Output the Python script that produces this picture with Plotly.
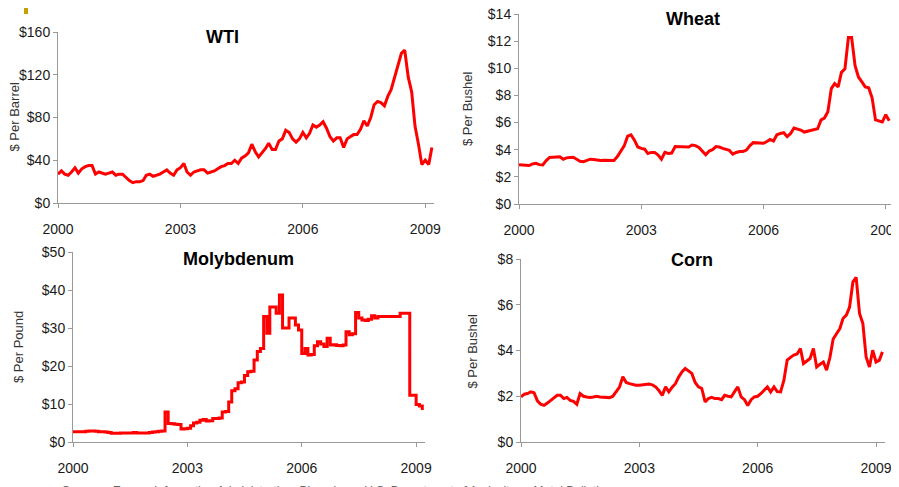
import pandas as pd
import plotly.graph_objects as go

# === Datos (valores mensuales) ===
months = pd.date_range("2000-01-01", "2009-03-01", freq="MS")

wti = [27, 30, 27, 26, 29, 33, 28, 32, 34, 35, 35, 27,
       29, 28, 27, 28, 29, 26, 27, 27, 24, 21, 19, 20,
       20, 21, 26, 27, 25, 26, 27, 29, 31, 28, 26, 31,
       33, 37, 29, 26, 29, 30, 31, 31, 28, 29, 30, 32,
       34, 35, 37, 37, 40, 37, 42, 44, 47, 55, 48, 43,
       47, 51, 56, 50, 50, 58, 60, 68, 66, 60, 57, 60,
       66, 61, 65, 73, 71, 73, 76, 70, 62, 58, 61, 61,
       52, 60, 62, 64, 64, 69, 77, 72, 80, 92, 95, 94,
       91, 100, 106, 118, 128, 140, 143, 118, 104, 72, 55, 36,
       40, 36, 52]

wheat = [2.90, 2.88, 2.85, 2.83, 2.95, 3.00, 2.90, 2.88, 3.20, 3.43, 3.45, 3.48,
         3.48, 3.30, 3.40, 3.43, 3.45, 3.30, 3.15, 3.12, 3.20, 3.30, 3.28, 3.22,
         3.20, 3.22, 3.20, 3.20, 3.20, 3.50, 3.90, 4.28, 5.00, 5.10, 4.70, 4.20,
         4.10, 4.04, 3.72, 3.80, 3.80, 3.60, 3.30, 3.80, 3.72, 3.75, 4.23, 4.23,
         4.23, 4.23, 4.20, 4.35, 4.30, 4.16, 3.90, 3.63, 3.90, 4.00, 4.23, 4.20,
         4.10, 4.04, 3.95, 3.67, 3.80, 3.87, 3.87, 3.97, 4.30, 4.52, 4.50, 4.47,
         4.47, 4.60, 4.76, 4.64, 5.10, 5.20, 5.25, 4.96, 5.20, 5.60, 5.54, 5.45,
         5.30, 5.37, 5.40, 5.49, 5.55, 6.20, 6.33, 6.80, 8.50, 8.87, 8.63, 9.70,
         9.96, 12.26, 12.26, 10.20, 9.36, 9.00, 8.63, 8.56, 7.80, 6.20, 6.14, 6.04,
         6.58, 6.14]

molybdenum = [2.7, 2.7, 2.7, 2.7, 2.8, 2.9, 2.9, 2.8, 2.7, 2.7, 2.6, 2.5,
              2.3, 2.3, 2.3, 2.4, 2.4, 2.4, 2.4, 2.5, 2.4, 2.4, 2.4, 2.4,
              2.5, 2.6, 2.7, 2.8, 2.9, 7.9, 4.9, 4.8, 4.7, 4.6, 3.4, 3.5,
              3.6, 4.3, 5.0, 5.2, 5.7, 5.9, 5.5, 5.6, 6.2, 6.2, 6.3, 7.9,
              8.0, 10.5, 13.5, 14.0, 15.6, 15.8, 17.5, 18.5, 18.6, 21.6, 23.8, 24.6,
              33.0, 28.6, 35.5, 35.5, 33.9, 38.7, 30.0, 30.0, 32.6, 32.6, 30.8, 29.5,
              23.3, 24.6, 22.9, 23.0, 25.3, 26.4, 25.8, 25.1, 27.3, 25.5, 25.6, 25.4,
              25.3, 25.5, 29.0, 28.2, 28.5, 34.1, 32.6, 32.1, 32.0, 32.3, 33.2, 32.6,
              33.0, 33.0, 33.0, 33.0, 33.0, 33.0, 33.0, 33.9, 33.9, 33.9, 12.3, 12.3,
              9.9, 9.5, 8.4]

corn = [1.97, 2.09, 2.12, 2.19, 2.15, 1.80, 1.65, 1.60, 1.70, 1.82, 1.95, 2.04,
        2.04, 1.90, 1.95, 1.82, 1.78, 1.65, 2.12, 2.00, 1.97, 1.95, 1.97, 2.00,
        1.97, 1.96, 1.97, 1.94, 2.00, 2.20, 2.40, 2.85, 2.60, 2.55, 2.50, 2.48,
        2.48, 2.50, 2.52, 2.53, 2.50, 2.41, 2.25, 2.04, 2.41, 2.19, 2.40, 2.55,
        2.85, 3.07, 3.21, 3.10, 3.00, 2.60, 2.41, 2.34, 1.75, 1.90, 1.95, 1.90,
        1.90, 1.85, 2.04, 2.00, 1.97, 2.20, 2.41, 1.97, 1.85, 1.60, 1.85, 1.97,
        2.00, 2.12, 2.25, 2.41, 2.19, 2.41, 2.20, 2.19, 2.70, 3.58, 3.70, 3.80,
        3.85, 4.09, 3.43, 3.55, 3.65, 4.09, 3.28, 3.40, 3.50, 3.14, 3.70, 4.50,
        4.74, 4.96, 5.40, 5.55, 5.90, 7.00, 7.20, 5.62, 5.18, 3.72, 3.28, 4.01,
        3.50, 3.58, 3.94]

year_ticks = ["2000-01-01", "2003-01-01", "2006-01-01", "2009-01-01"]
year_labels = ["2000", "2003", "2006", "2009"]

# la página tiene un margen de 8px en el body: la figura empieza en (8, 8)
OFF = 8
W, H = 899 - OFF, 487 - OFF


def px(x):
    return (x - OFF) / W


def py(y):
    return 1 - (y - OFF) / H


RED = "#FF0000"
AXIS = "#999999"
SANS = "Liberation Sans, Arial, sans-serif"
XFONT = dict(family=SANS, size=14, color="#1a1a1a")
YFONT = dict(family=SANS, size=14, color="#1a1a1a")

# (nombre, datos, forma, eje, x0, x1, y_arriba, y_abajo, x_fin, ymax, dtick, título_y, x_título_y, x_título, y_título)
panels = [
    ("WTI", wti, "linear", 1, 58, 434, 32, 203, "2009-03-20", 160, 40, "$ Per Barrel", 14, 222, 37),
    ("Wheat", wheat, "linear", 2, 519, 891, 14, 204, "2009-02-17", 14, 2, "$ Per Bushel", 468, 693, 19),
    ("Molybdenum", molybdenum, "hv", 3, 73, 425, 252, 442, "2009-03-27", 50, 10, "$ Per Pound", 18, 238, 259),
    ("Corn", corn, "linear", 4, 521, 885, 259, 442, "2009-03-25", 8, 2, "$ Per Bushel", 472, 692, 260),
]

fig = go.Figure()
annotations = []

for name, vals, shape, n, x0, x1, yt, yb, xend, ymax, dtick, ytitle, ytx, tx, ty in panels:
    sfx = "" if n == 1 else str(n)
    fig.add_trace(go.Scatter(
        x=months, y=vals, mode="lines", line=dict(color=RED, width=3, shape=shape),
        xaxis="x" + sfx, yaxis="y" + sfx, showlegend=False, hoverinfo="skip"
    ))
    fig.layout["xaxis" + sfx] = dict(
        domain=[px(x0), px(x1)], anchor="y" + sfx, type="date", automargin=False,
        range=["2000-01-01", xend], tickvals=year_ticks, ticktext=year_labels,
        showgrid=False, zeroline=False, showline=True, linecolor=AXIS, linewidth=1,
        ticks="outside", ticklen=4, tickcolor=AXIS, tickfont=XFONT, ticklabelstandoff=9,
        ticklabeloverflow="allow"
    )
    fig.layout["yaxis" + sfx] = dict(
        domain=[py(yb), py(yt)], anchor="x" + sfx, range=[0, ymax], dtick=dtick,
        automargin=False, tickprefix="$", showgrid=False, zeroline=False, showline=True,
        linecolor=AXIS, linewidth=1, ticks="outside", ticklen=4, tickcolor=AXIS, tickfont=YFONT,
        ticklabeloverflow="allow"
    )
    # título del panel
    annotations.append(dict(
        text="<b>%s</b>" % name, xref="paper", yref="paper", x=px(tx), y=py(ty),
        xanchor="center", yanchor="middle", showarrow=False,
        font=dict(family=SANS, size=18, color="black")
    ))
    # título del eje y
    annotations.append(dict(
        text=ytitle, xref="paper", yref="paper", x=px(ytx), y=py((yt + yb) / 2),
        xanchor="center", yanchor="middle", textangle=-90, showarrow=False,
        font=dict(family=SANS, size=13, color="#333333")
    ))

# fuente al pie (recortada en la imagen original)
annotations.append(dict(
    text="Sources: Energy Information Administration, Bloomberg, U.S. Department of Agriculture, Metal Bulletin",
    xref="paper", yref="paper", x=px(60), y=py(482), xanchor="left", yanchor="top",
    showarrow=False, font=dict(family=SANS, size=12, color="#666666")
))

fig.update_layout(
    width=W, height=H, margin=dict(l=0, r=0, t=0, b=0, autoexpand=False),
    paper_bgcolor="white", plot_bgcolor="white",
    annotations=annotations,
    shapes=[dict(type="rect", xref="paper", yref="paper", x0=px(24), x1=px(28),
                 y0=py(14), y1=1, fillcolor="#C4A000", line=dict(width=0))]
)

fig.write_html("out.html")
